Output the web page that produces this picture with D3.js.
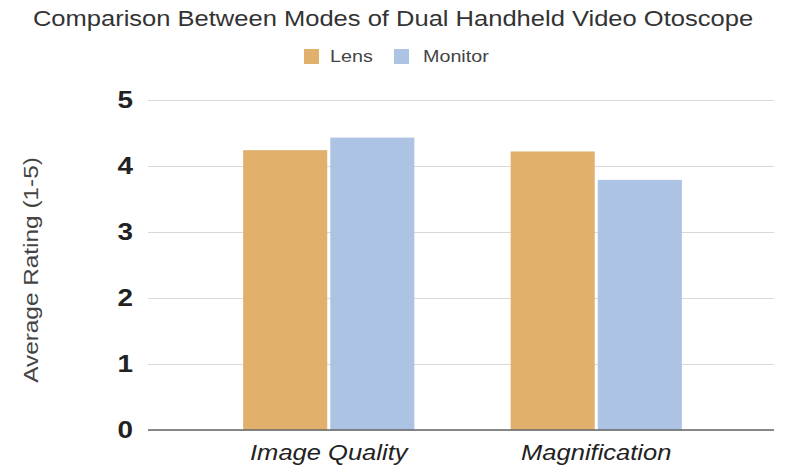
<!DOCTYPE html>
<html><head><meta charset="utf-8">
<script src="https://cdn.jsdelivr.net/npm/d3@7"></script>
<style>body{margin:0;background:#fff}svg{display:block}text{font-family:"Liberation Sans",Arial,sans-serif}</style>
</head><body><svg id="c" width="786" height="472"></svg>
<script>
const categories = ["Image Quality", "Magnification"];
const seriesNames = ["Lens", "Monitor"];
const lensValues = [4.24, 4.22];
const monitorValues = [4.43, 3.79];
const yTicks = [0, 1, 2, 3, 4, 5];
const colors = ["#e0b06c", "#adc3e3"];
const title = "Comparison Between Modes of Dual Handheld Video Otoscope";
const yTitle = "Average Rating (1-5)";

const svg = d3.select("#c");
const gridLeft = 148, gridRight = 774;
const stretch = 1.16;
function widen(sel) {
  sel.each(function() {
    const w = this.getComputedTextLength();
    d3.select(this).attr("textLength", w * stretch).attr("lengthAdjust", "spacingAndGlyphs");
  });
}
const y = d3.scaleLinear().domain([0, 5]).range([430, 100]);
const x0 = d3.scaleBand().domain(categories).range([195, 730]).paddingInner(0.36).paddingOuter(0.18);
const x1 = d3.scaleBand().domain(seriesNames).range([0, x0.bandwidth()]).paddingInner(0.035);
const color = d3.scaleOrdinal().domain(seriesNames).range(colors);
const series = [lensValues, monitorValues];

// title
svg.append("text").attr("x", 393).attr("y", 26).attr("text-anchor", "middle")
  .attr("font-size", 22).attr("fill", "#333").text(title).call(widen);

// legend
const leg = [{name: "Lens", sx: 304, tx: 330}, {name: "Monitor", sx: 394, tx: 423}];
leg.forEach(l => {
  svg.append("rect").attr("x", l.sx).attr("y", 49).attr("width", 15).attr("height", 15).attr("fill", color(l.name));
  svg.append("text").attr("x", l.tx).attr("y", 62).attr("font-size", 17).attr("fill", "#444").text(l.name).call(widen);
});

// grid
const yAxis = d3.axisLeft(y).tickValues(yTicks).tickSize(-(gridRight - gridLeft)).tickFormat(d3.format("d")).tickPadding(15);
const ga = svg.append("g").attr("transform", `translate(${gridLeft},0)`).call(yAxis);
ga.select(".domain").remove();
ga.selectAll(".tick line").attr("stroke", "#d9d9d9").attr("stroke-width", 1);
ga.selectAll(".tick text").attr("font-size", 24).attr("font-weight", "bold").attr("fill", "#222")
  .attr("font-family", "'Liberation Sans',Arial,sans-serif").call(widen);

// bars
const g = svg.append("g");
categories.forEach((c, i) => {
  seriesNames.forEach((s, j) => {
    g.append("rect")
      .attr("x", x0(c) + x1(s))
      .attr("y", y(series[j][i]))
      .attr("width", x1.bandwidth())
      .attr("height", y(0) - y(series[j][i]))
      .attr("fill", color(s));
  });
});

// baseline
svg.append("line").attr("x1", gridLeft).attr("x2", gridRight).attr("y1", y(0)).attr("y2", y(0))
  .attr("stroke", "#666").attr("stroke-width", 1.5);

// x labels
const xAxis = d3.axisBottom(x0).tickSize(0).tickPadding(14);
const gx = svg.append("g").attr("transform", `translate(0,${y(0)})`).call(xAxis);
gx.select(".domain").remove();
gx.selectAll(".tick text").attr("font-size", 22).attr("font-style", "italic").attr("fill", "#222")
  .attr("font-family", "'Liberation Sans',Arial,sans-serif").call(widen);

// y title
svg.append("text").attr("transform", "translate(38,270) rotate(-90)").attr("text-anchor", "middle")
  .attr("font-size", 21).attr("fill", "#444").text(yTitle).call(widen);
</script></body></html>
